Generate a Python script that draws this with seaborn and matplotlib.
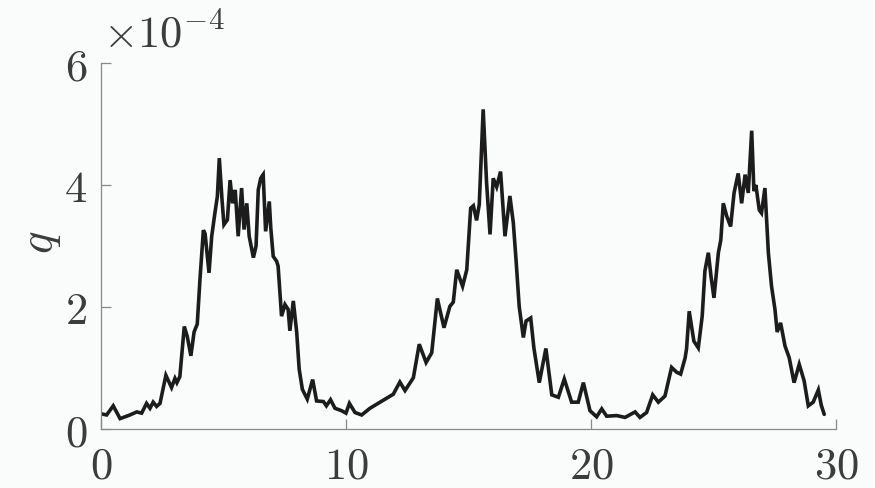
import matplotlib
matplotlib.use("Agg")
import matplotlib.pyplot as plt
import seaborn as sns
import pandas as pd
from matplotlib.ticker import FixedLocator, FuncFormatter

# time axis
t = [0.0, 0.23, 0.5, 0.78, 1.18, 1.46, 1.66, 1.86, 2.0, 2.13, 2.27, 2.41, 2.65, 2.88,
     3.02, 3.1, 3.22, 3.40, 3.52, 3.67, 3.80, 3.93, 4.04, 4.18, 4.25, 4.41, 4.52, 4.65,
     4.75, 4.83, 4.94, 5.02, 5.16, 5.27, 5.37, 5.48, 5.6, 5.74, 5.84, 5.95, 6.05, 6.22,
     6.33, 6.42, 6.52, 6.62, 6.72, 6.87, 6.93, 7.03, 7.17, 7.23, 7.37, 7.51, 7.64, 7.71,
     7.85, 7.99, 8.09, 8.22, 8.42, 8.64, 8.8, 9.08, 9.2, 9.37, 9.55, 9.82, 10.0, 10.14,
     10.37, 10.64, 10.98, 11.39, 11.93, 12.2, 12.41, 12.75, 12.99, 13.27, 13.5, 13.73,
     14.0, 14.24, 14.38, 14.52, 14.76, 14.93, 15.09, 15.2, 15.33, 15.44, 15.6, 15.74,
     15.88, 16.01, 16.15, 16.31, 16.49, 16.69, 16.83, 16.94, 17.07, 17.24, 17.35, 17.54,
     17.67, 17.89, 18.16, 18.4, 18.67, 18.91, 19.21, 19.48, 19.69, 19.96, 20.23, 20.44,
     20.64, 21.05, 21.39, 21.8, 22.0, 22.27, 22.52, 22.75, 23.02, 23.29, 23.5, 23.66,
     23.84, 23.9, 24.01, 24.2, 24.38, 24.54, 24.65, 24.79, 24.9, 25.02, 25.2, 25.3, 25.4,
     25.54, 25.7, 25.84, 26.01, 26.15, 26.29, 26.42, 26.56, 26.65, 26.73, 26.87, 26.96,
     27.1, 27.24, 27.37, 27.51, 27.6, 27.74, 27.92, 28.09, 28.29, 28.5, 28.7, 28.87,
     29.07, 29.28, 29.4, 29.52]

# q in units of 1e-4
q = [0.25, 0.23, 0.38, 0.17, 0.23, 0.28, 0.26, 0.42, 0.34, 0.44, 0.37, 0.42, 0.88, 0.68,
     0.83, 0.76, 0.86, 1.68, 1.52, 1.2, 1.59, 1.72, 2.45, 3.26, 3.2, 2.56, 3.16, 3.54,
     3.81, 4.44, 3.76, 3.35, 3.43, 4.08, 3.70, 3.92, 3.16, 3.95, 3.27, 3.70, 3.16, 2.81,
     3.0, 3.92, 4.11, 4.17, 3.24, 3.73, 3.3, 2.83, 2.75, 2.67, 1.85, 2.04, 1.96, 1.61,
     2.10, 1.58, 0.98, 0.65, 0.49, 0.81, 0.46, 0.45, 0.38, 0.48, 0.34, 0.30, 0.26, 0.42,
     0.27, 0.23, 0.34, 0.44, 0.57, 0.77, 0.63, 0.84, 1.39, 1.09, 1.25, 2.14,
     1.66, 2.01, 2.08, 2.61, 2.34, 2.61, 3.62, 3.66, 3.42, 3.68, 5.24, 4.03,
     3.19, 4.11, 3.97, 4.22, 3.16, 3.82, 3.38, 2.78, 2.01, 1.50, 1.77, 1.82,
     1.33, 0.76, 1.32, 0.56, 0.52, 0.82, 0.44, 0.44, 0.76, 0.30, 0.20, 0.33,
     0.21, 0.22, 0.19, 0.28, 0.19, 0.27, 0.56, 0.44, 0.54, 1.01, 0.93, 0.90,
     1.16, 1.31, 1.93, 1.44, 1.33, 1.85, 2.59, 2.89, 2.50, 2.15, 2.89, 3.10, 3.70,
     3.49, 3.32, 3.87, 4.19, 3.70, 4.17, 3.87, 4.89, 3.9, 4.0, 3.59, 3.54,
     3.95, 2.89, 2.34, 1.96, 1.59, 1.74, 1.36, 1.17, 0.76, 1.06, 0.79, 0.38,
     0.44, 0.64, 0.39, 0.24]

x_ticks = [0, 10, 20, 30]
y_ticks = [0, 2, 4, 6]

sns.set_style("ticks")
plt.rcParams["mathtext.fontset"] = "cm"
plt.rcParams["font.family"] = ["DejaVu Serif"]

bg = "#fafbfb"
axis_col = "#888888"
text_col = "#3c3c3c"
fs = 32

fig = plt.figure(figsize=(8.75, 4.88), dpi=100, facecolor=bg)
ax = fig.add_axes([0.1154, 0.1209, 0.8400, 0.750])
ax.set_facecolor(bg)

df = pd.DataFrame({"t": t, "q": q})
sns.lineplot(data=df, x="t", y="q", ax=ax, color="#1c1c1c", linewidth=2.6,
             solid_joinstyle="miter")

ax.set_xlim(0, 30)
ax.set_ylim(0, 6)
ax.xaxis.set_major_locator(FixedLocator(x_ticks))
ax.yaxis.set_major_locator(FixedLocator(y_ticks))
fmt = FuncFormatter(lambda v, p: r"$%d$" % v)
ax.xaxis.set_major_formatter(fmt)
ax.yaxis.set_major_formatter(fmt)

for side in ("top", "right"):
    ax.spines[side].set_visible(False)
for side in ("left", "bottom"):
    ax.spines[side].set_color(axis_col)
    ax.spines[side].set_linewidth(0.9)

ax.tick_params(direction="in", length=7, width=0.9, color=axis_col,
               labelsize=fs, labelcolor=text_col)
ax.tick_params(axis="y", pad=10)
ax.tick_params(axis="x", pad=11)

ax.set_xlabel("")
ax.set_ylabel("")
fig.text(40 / 875, 1 - 242 / 488, r"$q$", rotation=90, fontsize=fs + 2,
         color=text_col, ha="center", va="center")
fig.text(103 / 875, 1 - 48 / 488, r"$\times10^{-4}$", fontsize=fs,
         color=text_col, ha="left", va="baseline")

fig.savefig("out.png", dpi=100, facecolor=bg)
